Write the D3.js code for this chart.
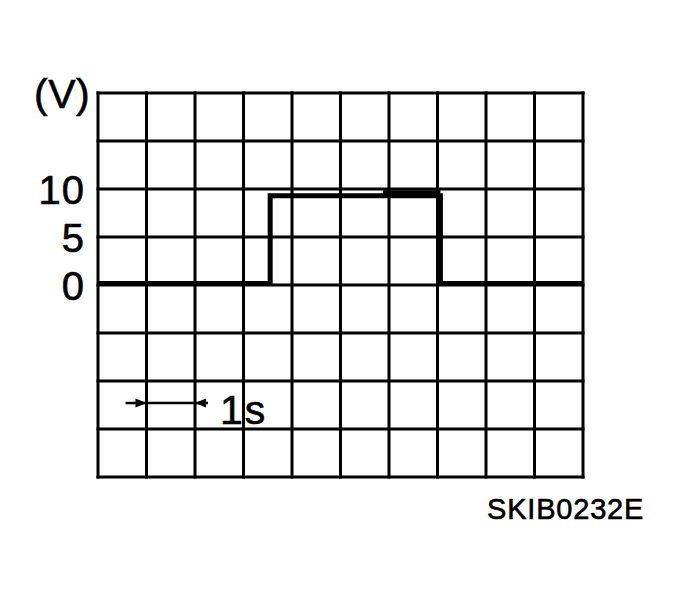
<!DOCTYPE html>
<html>
  <head>
    <meta http-equiv="content-type" content="text/html; charset=utf-8" />
    <title>SKIB0232E</title>
    <script src="https://cdn.jsdelivr.net/npm/d3@7"></script>
    <style>
      body { margin: 0; background: #fff; }
      text { font-family: "Liberation Sans", Arial, sans-serif; fill: #000; stroke: #000; stroke-width: 0.6; }
    </style>
  </head>
  <body>
    <script>
// waveform (time in s, voltage in V)
var sigTime  = [0, 3.55, 3.55, 7.06, 7.06, 10];
var sigVolts = [0.15, 0.15, 9.3, 9.3, 0.15, 0.15];
// small ripple on the top of the pulse
var ripTime  = [5.88, 7.06];
var ripVolts = [9.6, 9.6];

var yLabels = [10, 5, 0];
var timeMark = [1, 2];     // one division = 1 s
var markVolt = -12.3;

var w = 681, h = 595;

var svg = d3.select("body").append("svg")
    .attr("width", w)
    .attr("height", h);

var x = d3.scaleLinear().domain([0, 10]).range([98, 583]);
var y = d3.scaleLinear().domain([20, -20]).range([93, 477]);

// grid
svg.append("g")
  .selectAll("line")
  .data(d3.range(0, 11))
  .enter().append("line")
    .attr("x1", function(d) { return x(d); })
    .attr("x2", function(d) { return x(d); })
    .attr("y1", y(20) - 1.5)
    .attr("y2", y(-20) + 1.5)
    .attr("stroke", "#000")
    .attr("stroke-width", 3);

svg.append("g")
  .selectAll("line")
  .data(d3.range(-20, 21, 5))
  .enter().append("line")
    .attr("x1", x(0) - 1.5)
    .attr("x2", x(10) + 1.5)
    .attr("y1", function(d) { return y(d); })
    .attr("y2", function(d) { return y(d); })
    .attr("stroke", "#000")
    .attr("stroke-width", 3);

// y labels
svg.append("g")
  .selectAll("text")
  .data(yLabels)
  .enter().append("text")
    .attr("x", 85)
    .attr("y", function(d) { return y(d) + 14.5; })
    .attr("text-anchor", "end")
    .attr("font-size", 40)
    .attr("letter-spacing", 1)
    .text(function(d) { return d; });

svg.append("text")
  .attr("x", 34)
  .attr("y", 108)
  .attr("font-size", 41)
  .attr("letter-spacing", 0.5)
  .text("(V)");

// signal
var line = d3.line()
  .x(function(d) { return x(d[0]); })
  .y(function(d) { return y(d[1]); });

svg.append("path")
  .datum(d3.zip(ripTime, ripVolts))
  .attr("d", line)
  .attr("fill", "none")
  .attr("stroke", "#000")
  .attr("stroke-width", 5);

svg.append("path")
  .datum(d3.zip(sigTime, sigVolts))
  .attr("d", line)
  .attr("fill", "none")
  .attr("stroke", "#000")
  .attr("stroke-width", 5)
  .attr("stroke-linejoin", "miter");

// 1 s marker
var my = y(markVolt);
svg.append("line")
  .attr("x1", x(timeMark[0]) - 21)
  .attr("x2", x(timeMark[1]) + 13)
  .attr("y1", my)
  .attr("y2", my)
  .attr("stroke", "#000")
  .attr("stroke-width", 2.5);

svg.append("g")
  .selectAll("path")
  .data(timeMark)
  .enter().append("path")
    .attr("d", function(d, i) {
      var tx = x(d), dir = i === 0 ? -1 : 1;
      return "M" + tx + "," + my +
             "L" + (tx + dir * 11) + "," + (my - 4.5) +
             "L" + (tx + dir * 11) + "," + (my + 4.5) + "Z";
    })
    .attr("fill", "#000");

svg.append("text")
  .attr("x", x(timeMark[1]) + 25)
  .attr("y", 424)
  .attr("font-size", 41)
  .attr("letter-spacing", 2)
  .text("1s");

svg.append("text")
  .attr("x", 487)
  .attr("y", 519)
  .attr("font-size", 29)
  .attr("letter-spacing", 0.8)
  .text("SKIB0232E");
    </script>
  </body>
</html>
